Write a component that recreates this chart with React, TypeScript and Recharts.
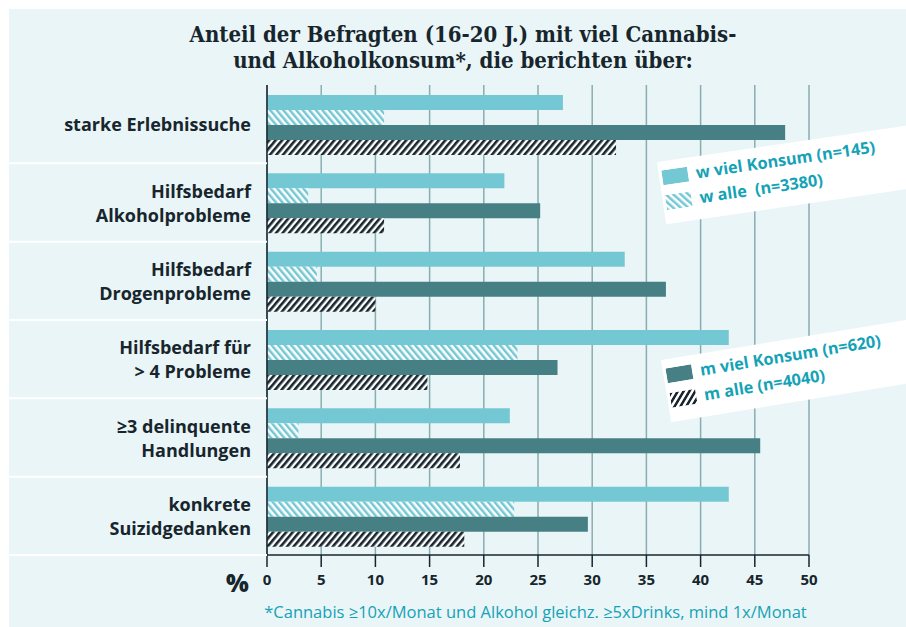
import { Bar, BarChart, CartesianGrid, XAxis, YAxis } from "recharts";

const categories = [
	"starke Erlebnissuche",
	"Hilfsbedarf\nAlkoholprobleme",
	"Hilfsbedarf\nDrogenprobleme",
	"Hilfsbedarf für\n> 4 Probleme",
	"≥3 delinquente\nHandlungen",
	"konkrete\nSuizidgedanken",
];
const wViel = [27.3, 21.9, 33.0, 42.6, 22.4, 42.6];
const wAlle = [10.8, 3.8, 4.6, 23.1, 2.9, 22.8];
const mViel = [47.8, 25.2, 36.8, 26.8, 45.5, 29.6];
const mAlle = [32.2, 10.8, 10.0, 14.8, 17.8, 18.2];
const xTicks = [0, 5, 10, 15, 20, 25, 30, 35, 40, 45, 50];

const data = categories.map((name, i) => ({
	name,
	wViel: wViel[i],
	wAlle: wAlle[i],
	mViel: mViel[i],
	mAlle: mAlle[i],
}));

const W = 906;
const H = 627;
const TOP = 85;
const BOTTOM = 555;
const BAND = (BOTTOM - TOP) / categories.length;
const LIGHT = "#74c8d3";
const DARK = "#467f84";
const INK = "#17252d";
const TEAL_TEXT = "#14a2b6";
const FONT = "'Open Sans', Lato, sans-serif";

function CategoryTick(props: any) {
	const { x, y, payload } = props;
	const lines = String(payload.value).split("\n");
	const step = 24;
	const start = y - ((lines.length - 1) * step) / 2;
	return (
		<g>
			<line x1={9} x2={x + 16} y1={y + BAND / 2} y2={y + BAND / 2} stroke="#ffffff" strokeWidth={2} />
			{lines.map((l, i) => (
				<text
					key={i}
					x={x}
					y={start + i * step}
					textAnchor="end"
					dominantBaseline="central"
					fontFamily={FONT}
					fontWeight={700}
					fontSize={18}
					fill={INK}
				>
					{l}
				</text>
			))}
		</g>
	);
}

function Swatch({ kind }: { kind: string }) {
	return (
		<svg width={26} height={15} style={{ display: "block" }}>
			<rect width={26} height={15} fill={kind === "wViel" ? LIGHT : kind === "mViel" ? DARK : `url(#leg-${kind})`} />
		</svg>
	);
}

function LegendBox({ left, top, angle, items }: { left: number; top: number; angle: number; items: { kind: string; label: string }[] }) {
	return (
		<div
			style={{
				position: "absolute",
				left,
				top,
				width: 300,
				height: 63,
				background: "#ffffff",
				transform: `rotate(${angle}deg)`,
				transformOrigin: "0 0",
			}}
		>
			{items.map((it, i) => (
				<div key={i} style={{ position: "absolute", left: 3, top: 9 + i * 25, display: "flex", alignItems: "center" }}>
					<Swatch kind={it.kind} />
					<span
						style={{
							marginLeft: 8,
							fontFamily: FONT,
							fontWeight: 700,
							fontSize: 16.3,
							color: TEAL_TEXT,
							whiteSpace: "pre",
							lineHeight: "15px",
						}}
					>
						{it.label}
					</span>
				</div>
			))}
		</div>
	);
}

export default function App() {
	return (
		<div style={{ position: "fixed", left: 0, top: 0, width: W, height: H, background: "#ffffff", overflow: "hidden" }}>
			<svg width={0} height={0} style={{ position: "absolute" }}>
				<defs>
					<pattern id="leg-wAlle" patternUnits="userSpaceOnUse" width={5} height={5} patternTransform="rotate(-40)">
						<rect width={5} height={5} fill="#ffffff" />
						<rect width={2.5} height={5} fill={LIGHT} />
					</pattern>
					<pattern id="leg-mAlle" patternUnits="userSpaceOnUse" width={5} height={5} patternTransform="rotate(40)">
						<rect width={5} height={5} fill="#ffffff" />
						<rect width={2.5} height={5} fill={INK} />
					</pattern>
				</defs>
			</svg>
			<div style={{ position: "absolute", left: 9, top: 9, width: W - 9, height: H - 9, background: "#eaf5f7" }} />
			<div
				style={{
					position: "absolute",
					left: 0,
					top: 21,
					width: 926,
					textAlign: "center",
					fontFamily: "'DejaVu Serif Condensed', 'DejaVu Serif', serif",
					fontWeight: 700,
					fontSize: 22,
					lineHeight: "26px",
					color: INK,
				}}
			>
				Anteil der Befragten (16-20 J.) mit viel Cannabis-
				<br />
				und Alkoholkonsum*, die berichten über:
			</div>
			<div style={{ position: "absolute", left: 0, top: 0 }}>
				<BarChart
					width={W}
					height={H}
					data={data}
					layout="vertical"
					margin={{ top: TOP, right: 97, bottom: H - BOTTOM - 30, left: 0 }}
					barCategoryGap={10}
					barGap={0}
				>
					<defs>
						<pattern id="hatch-w" patternUnits="userSpaceOnUse" width={5} height={5} patternTransform="rotate(-40)">
							<rect width={5} height={5} fill="#ffffff" />
							<rect width={2.5} height={5} fill={LIGHT} />
						</pattern>
						<pattern id="hatch-m" patternUnits="userSpaceOnUse" width={5} height={5} patternTransform="rotate(40)">
							<rect width={5} height={5} fill="#ffffff" />
							<rect width={2.6} height={5} fill={INK} />
						</pattern>
					</defs>
					<CartesianGrid horizontal={false} stroke="#88adb2" strokeWidth={1.5} />
					<XAxis
						type="number"
						domain={[0, 50]}
						ticks={xTicks}
						interval={0}
						height={30}
						tickSize={12}
						tickMargin={7}
						axisLine={{ stroke: INK, strokeWidth: 1.5 }}
						tickLine={{ stroke: INK, strokeWidth: 1.5 }}
						tick={{ fill: INK, fontFamily: FONT, fontWeight: 700, fontSize: 15 }}
					/>
					<YAxis
						type="category"
						dataKey="name"
						width={267}
						tickSize={0}
						tickMargin={16}
						interval={0}
						axisLine={{ stroke: INK, strokeWidth: 1.5 }}
						tickLine={false}
						tick={(p: any) => <CategoryTick {...p} />}
					/>
					<Bar dataKey="wViel" fill={LIGHT} isAnimationActive={false} />
					<Bar dataKey="wAlle" fill="url(#hatch-w)" isAnimationActive={false} />
					<Bar dataKey="mViel" fill={DARK} isAnimationActive={false} />
					<Bar dataKey="mAlle" fill="url(#hatch-m)" isAnimationActive={false} />
				</BarChart>
			</div>
			<LegendBox
				left={657}
				top={162}
				angle={-8.3}
				items={[
					{ kind: "wViel", label: "w viel Konsum (n=145)" },
					{ kind: "wAlle", label: "w alle  (n=3380)" },
				]}
			/>
			<LegendBox
				left={661}
				top={360}
				angle={-9.3}
				items={[
					{ kind: "mViel", label: "m viel Konsum (n=620)" },
					{ kind: "mAlle", label: "m alle (n=4040)" },
				]}
			/>
			<div
				style={{
					position: "absolute",
					left: 226,
					top: 566,
					fontFamily: FONT,
					fontWeight: 800,
					fontSize: 24,
					color: INK,
				}}
			>
				%
			</div>
			<div
				style={{
					position: "absolute",
					left: 263,
					top: 600,
					width: 545,
					textAlign: "center",
					fontFamily: FONT,
					fontSize: 16.5,
					color: TEAL_TEXT,
					whiteSpace: "nowrap",
				}}
			>
				*Cannabis ≥10x/Monat und Alkohol gleichz. ≥5xDrinks, mind 1x/Monat
			</div>
		</div>
	);
}
